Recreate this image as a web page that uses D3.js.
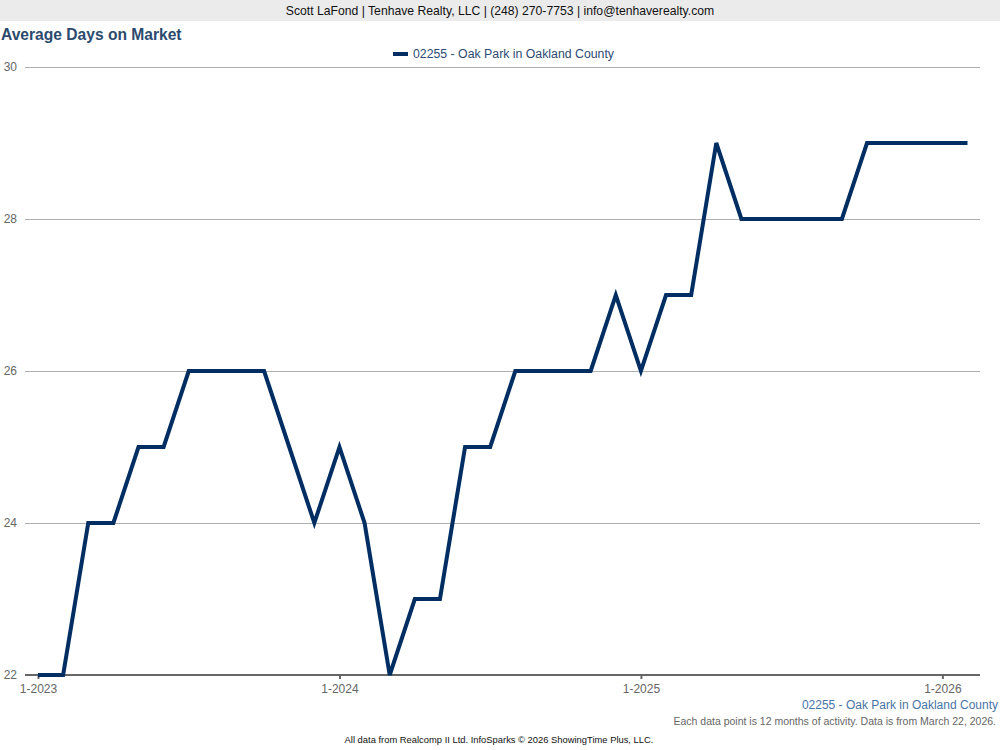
<!DOCTYPE html>
<html><head><meta charset="utf-8">
<script src="https://cdn.jsdelivr.net/npm/d3@7"></script>
<style>body{margin:0;background:#fff;} svg{display:block;font-family:"Liberation Sans",Arial,sans-serif;}</style>
</head><body>
<svg id="c" width="1000" height="750"></svg>
<script>
const months = ["1-2023","2-2023","3-2023","4-2023","5-2023","6-2023","7-2023","8-2023","9-2023","10-2023","11-2023","12-2023",
"1-2024","2-2024","3-2024","4-2024","5-2024","6-2024","7-2024","8-2024","9-2024","10-2024","11-2024","12-2024",
"1-2025","2-2025","3-2025","4-2025","5-2025","6-2025","7-2025","8-2025","9-2025","10-2025","11-2025","12-2025",
"1-2026","2-2026"];
const values = [22,22,24,24,25,25,26,26,26,26,25,24,
25,24,22,23,23,25,25,26,26,26,26,27,
26,27,27,29,28,28,28,28,28,29,29,29,
29,29];
const yTicks = [22,24,26,28,30];
const xTickLabels = ["1-2023","1-2024","1-2025","1-2026"];
const seriesName = "02255 - Oak Park in Oakland County";

const svg = d3.select("#c");
const x = d3.scalePoint().domain(months).range([38, 967.5]);
const y = d3.scaleLinear().domain([22,30]).range([675,67]);

// header
svg.append("rect").attr("x",0).attr("y",0).attr("width",1000).attr("height",21).attr("fill","#ebebeb");
svg.append("text").attr("x",500).attr("y",15).attr("text-anchor","middle").attr("font-size",12.2).attr("fill","#111")
  .text("Scott LaFond | Tenhave Realty, LLC | (248) 270-7753 | info@tenhaverealty.com");
svg.append("text").attr("x",1).attr("y",40).attr("font-size",15.6).attr("font-weight","bold").attr("fill","#2b4a6e")
  .text("Average Days on Market");

// legend
svg.append("line").attr("x1",393).attr("x2",408).attr("y1",54).attr("y2",54).attr("stroke","#002d62").attr("stroke-width",4);
svg.append("text").attr("x",413).attr("y",58).attr("font-size",12.3).attr("fill","#2d4b74").text(seriesName);

// grid + y labels
const yAxis = d3.axisLeft(y).tickValues(yTicks).tickSize(-955).tickFormat(d3.format("d")).tickPadding(8);
const gy = svg.append("g").attr("transform","translate(25,0)").call(yAxis);
gy.select(".domain").remove();
gy.selectAll(".tick line").attr("stroke","#b0b0b0").attr("stroke-width",1);
gy.selectAll(".tick text").attr("font-size",12).attr("fill","#666").attr("font-family","Liberation Sans, Arial, sans-serif").attr("x",-8);

// x axis
const xAxis = d3.axisBottom(x).tickValues(xTickLabels).tickSize(5).tickPadding(4);
const gx = svg.append("g").attr("transform","translate(0,675)").call(xAxis);
gx.select(".domain").remove();
gx.selectAll(".tick line").attr("stroke","#666").attr("stroke-width",2).attr("y1",-1).attr("y2",4);
gx.selectAll(".tick text").attr("font-size",12).attr("fill","#666").attr("font-family","Liberation Sans, Arial, sans-serif");
svg.append("line").attr("x1",25).attr("x2",980).attr("y1",675).attr("y2",675).attr("stroke","#666").attr("stroke-width",2);

// line
const line = d3.line().x((d,i)=>x(months[i])).y(d=>y(d));
svg.append("path").datum(values).attr("d",line).attr("fill","none").attr("stroke","#002d62")
  .attr("stroke-width",4).attr("stroke-linejoin","miter");

// bottom texts
svg.append("text").attr("x",998).attr("y",709).attr("text-anchor","end").attr("font-size",12).attr("fill","#4a74a6").text(seriesName);
svg.append("text").attr("x",996).attr("y",725).attr("text-anchor","end").attr("font-size",10.5).attr("fill","#666")
  .text("Each data point is 12 months of activity. Data is from March 22, 2026.");
svg.append("text").attr("x",499).attr("y",743).attr("text-anchor","middle").attr("font-size",9.4).attr("fill","#111")
  .text("All data from Realcomp II Ltd. InfoSparks © 2026 ShowingTime Plus, LLC.");
</script>
</body></html>
